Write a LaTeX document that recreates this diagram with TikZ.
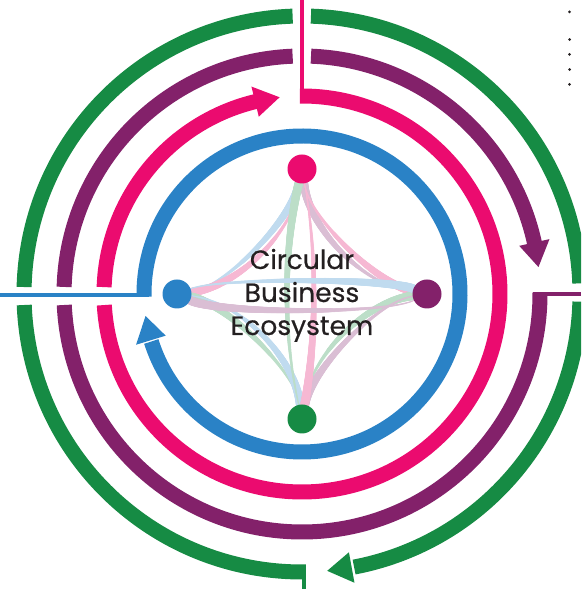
\documentclass[tikz,border=0pt]{standalone}
\usepackage{fontspec}
\setmainfont{Poppins}
\newfontfamily\capfont{Poppins}[FakeBold=0.5]
\usetikzlibrary{decorations.markings}

\definecolor{cgreen}{RGB}{22,139,68}
\definecolor{cpurple}{RGB}{131,33,106}
\definecolor{cpink}{RGB}{235,11,111}
\definecolor{cblue}{RGB}{42,130,198}
\definecolor{lgreen}{RGB}{188,222,200}
\definecolor{lpurple}{RGB}{218,190,212}
\definecolor{lpink}{RGB}{246,184,211}
\definecolor{lblue}{RGB}{192,219,239}
\definecolor{ink}{RGB}{35,31,32}

\pgfdeclarelayer{links}
\pgfsetlayers{links,main}

\tikzset{
  ring/.style={line width=15pt},
  feed/.style={line width=4pt},
  hub/.style={circle, minimum size=29pt, inner sep=0pt, fill=#1},
  % tapered ribbon: thin at the start of the path, thick at its end
  link/.style={
    decoration={markings,
      mark=between positions 0 and 1 step 0.5pt with {
        \pgfmathsetmacro\linkr{0.6+3.8*\pgfkeysvalueof{/pgf/decoration/mark info/distance from start}/\pgfdecoratedpathlength}
        \fill[#1] (0,0) circle[radius=\linkr pt];
      }},
    postaction={decorate}},
  caption/.style={font=\capfont\fontsize{26.5}{30}\selectfont, text=ink, anchor=base, inner sep=0pt}
}

% arrowhead on a ring: colour, radius, base angle, tip angle
\newcommand\ringtip[4]{\fill[#1] (#3:#2-15.5) -- (#4:#2) -- (#3:#2+15.5) -- cycle;}

\begin{document}
\begin{tikzpicture}[x=1pt,y=1pt]
\useasboundingbox (0,0) rectangle (581,589);
\clip (0,0) rectangle (581,589);

% feed lines entering the rings
\draw[feed,cblue] (0,294) -- (149,294);
\draw[feed,cpink] (302,589) -- (302,488);
\draw[feed,cpurple] (533,294.5) -- (581,294.5);
\draw[feed,cgreen] (304,0) -- (304,22);

\begin{scope}[shift={(302,295)}]
  % blue ring
  \draw[ring,cblue] (181:158) arc[start angle=181, end angle=-162.5, radius=158];
  \ringtip{cblue}{158}{-163}{-172}
  % pink ring
  \draw[ring,cpink] (90.6:198) arc[start angle=90.6, end angle=-176.8, radius=198];
  \draw[ring,cpink] (178:198) arc[start angle=178, end angle=103.2, radius=198];
  \ringtip{cpink}{198}{103.7}{96.5}
  % purple ring
  \draw[ring,cpurple] (0.3:238) arc[start angle=0.3, end angle=-177.35, radius=238];
  \draw[ring,cpurple] (178.3:238) arc[start angle=178.3, end angle=92.26, radius=238];
  \draw[ring,cpurple] (87.83:238) arc[start angle=87.83, end angle=12, radius=238];
  \ringtip{cpurple}{238}{12.5}{6.5}
  % green ring
  \draw[ring,cgreen] (270.8:278) arc[start angle=270.8, end angle=182.27, radius=278];
  \draw[ring,cgreen] (178.56:278) arc[start angle=178.56, end angle=91.94, radius=278];
  \draw[ring,cgreen] (88.15:278) arc[start angle=88.15, end angle=2.2, radius=278];
  \draw[ring,cgreen] (-1.59:278) arc[start angle=-1.59, end angle=-79.2, radius=278];
  \ringtip{cgreen}{278}{-79.7}{-84.8}
\end{scope}

% the four partners
\node[hub=cpink]   (T) at (302,420) {};
\node[hub=cblue]   (L) at (177,295) {};
\node[hub=cpurple] (R) at (427,295) {};
\node[hub=cgreen]  (B) at (302,170) {};

% ribbons between partners
\begin{pgfonlayer}{links}
  \path[link=lblue]   (L) .. controls (227,303) and (292,370) .. (T);
  \path[link=lpink]   (T) .. controls (294,358) and (240,303) .. (L);
  \path[link=lpurple] (R) .. controls (365,303) and (310,358) .. (T);
  \path[link=lpink]   (T) .. controls (310,370) and (377,305) .. (R);
  \path[link=lgreen]  (B) .. controls (294,220) and (227,285) .. (L);
  \path[link=lblue]   (L) .. controls (240,287) and (294,233) .. (B);
  \path[link=lgreen]  (B) .. controls (310,233) and (365,287) .. (R);
  \path[link=lpurple] (R) .. controls (377,287) and (312,220) .. (B);
  \path[link=lgreen]  (B) .. controls (283,253) and (283,337) .. (T);
  \path[link=lpink]   (T) .. controls (317,337) and (317,253) .. (B);
  \path[link=lblue]   (L) .. controls (218,311) and (386,311) .. (R);
  \path[link=lpurple] (R) .. controls (386,275) and (218,275) .. (L);
\end{pgfonlayer}

% title
\node[caption] (cap1) at (302,320) {Circular};
\node[caption] (cap2) at (302,287) {Business};
\node[caption] (cap3) at (302,254) {Ecosystem};

% list bullets at the top right
\foreach \y in {577.1,549.4,534.6,519.4,504.6}
  \fill[ink] (569.6,\y) circle[radius=1.5];
\end{tikzpicture}
\end{document}
